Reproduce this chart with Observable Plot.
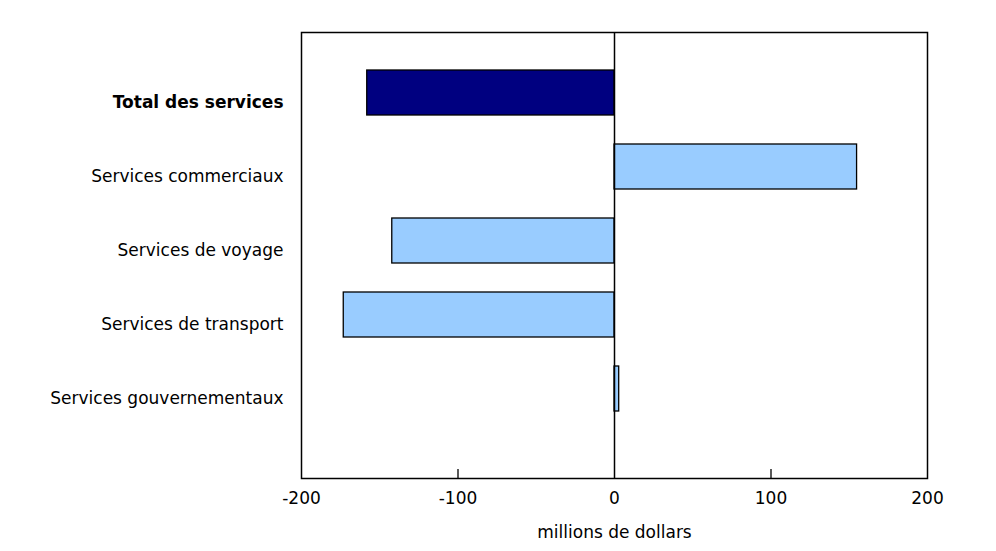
<!DOCTYPE html>
<html>
<head>
<meta charset="utf-8">
<script src="https://cdn.jsdelivr.net/npm/d3@7"></script>
<script src="https://cdn.jsdelivr.net/npm/@observablehq/plot@0.6"></script>
<style>
  html, body { margin: 0; padding: 0; background: #fff; }
  svg { display: block; }
</style>
</head>
<body>
<div id="chart"></div>
<script>
const categories = [
  "Total des services",
  "Services commerciaux",
  "Services de voyage",
  "Services de transport",
  "Services gouvernementaux"
];
const values = [-158, 155, -142, -173, 3];
const isTotal = [true, false, false, false, false];
const xTicks = [-200, -100, 0, 100, 200];
const innerTicks = [-100, 100];

const data = categories.map((c, i) => ({category: c, value: values[i], total: isTotal[i]}));

const labelOpts = {
  y: "category", text: "category", frameAnchor: "left", textAnchor: "end",
  dx: -18, dy: 9.5, fontSize: 17, fill: "#000"
};

const chart = Plot.plot({
  width: 996,
  height: 551,
  marginLeft: 301,
  marginRight: 69,
  marginTop: 32,
  marginBottom: 73,
  style: {fontFamily: "'DejaVu Sans', Verdana, sans-serif", fontSize: "17px", color: "#000"},
  x: {domain: [-200, 200], ticks: xTicks, label: null},
  y: {domain: categories, paddingInner: 0.394, paddingOuter: 0, insetTop: 37, insetBottom: 66, label: null, axis: null},
  marks: [
    Plot.frame({stroke: "#000", strokeWidth: 1.5}),
    Plot.barX(data, {
      x: "value", y: "category",
      fill: d => d.total ? "#000080" : "#99CCFF",
      stroke: "#000", strokeWidth: 1.3
    }),
    Plot.ruleX([0], {stroke: "#000", strokeWidth: 1.5}),
    Plot.tickX(innerTicks, {x: d => d, insetTop: 437, stroke: "#000", strokeWidth: 1.3}),
    Plot.axisX({
      ticks: xTicks, tickSize: 0, tickPadding: 13, fontSize: 17,
      tickFormat: d => d < 0 ? "-" + Math.abs(d) : String(d),
      label: null
    }),
    Plot.text(["millions de dollars"], {frameAnchor: "bottom", lineAnchor: "middle", dy: 54, fontSize: 17}),
    Plot.text(data.filter(d => d.total), {...labelOpts, fontWeight: "bold"}),
    Plot.text(data.filter(d => !d.total), labelOpts)
  ]
});

document.getElementById("chart").appendChild(chart);
</script>
</body>
</html>
